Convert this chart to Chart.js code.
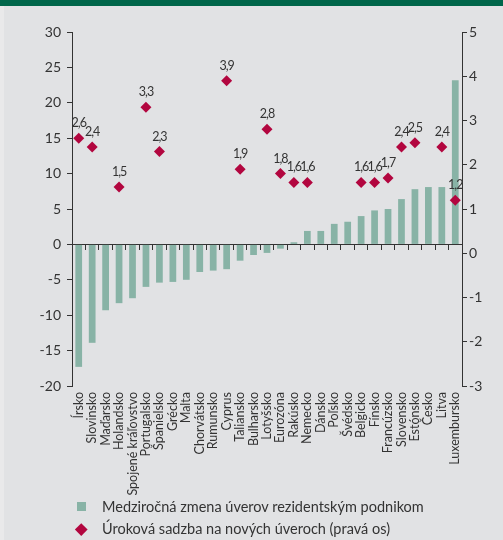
<!DOCTYPE html>
<html>
<head>
<meta charset="utf-8">
<script src="https://cdn.jsdelivr.net/npm/chart.js@4/dist/chart.umd.min.js"></script>
<style>
  html, body { margin: 0; padding: 0; background: #e1e2e4; }
  #wrap { position: relative; width: 503px; height: 540px; overflow: hidden; background: #e1e2e4;
          font-family: Lato, "Open Sans", sans-serif; }
  #band { position: absolute; left: 0; top: 0; width: 503px; height: 6px; background: #00664a; }
  #edge { position: absolute; left: 0; top: 6px; width: 4px; height: 534px; background: #e9e9ea; }
  #c { position: absolute; left: 0; top: 0; }
  #legend { position: absolute; left: 0; top: 496px; color: #333; font-size: 14.5px; }
  .row { position: relative; height: 22px; line-height: 22px; padding-left: 102px; white-space: nowrap; }
  .mk { position: absolute; }
</style>
</head>
<body>
<div id="wrap">
  <div id="band"></div>
  <div id="edge"></div>
  <canvas id="c" width="503" height="540"></canvas>
  <div id="legend"></div>
</div>
<script>
// Countries along the category axis
const categories = ['Írsko', 'Slovinsko', 'Maďarsko', 'Holandsko', 'Spojené kráľovstvo', 'Portugalsko',
  'Španielsko', 'Grécko', 'Malta', 'Chorvátsko', 'Rumunsko', 'Cyprus', 'Taliansko', 'Bulharsko',
  'Lotyšsko', 'Eurozóna', 'Rakúsko', 'Nemecko', 'Dánsko', 'Poľsko', 'Švédsko', 'Belgicko', 'Fínsko',
  'Francúzsko', 'Slovensko', 'Estónsko', 'Česko', 'Litva', 'Luxembursko'];

// Year-on-year change of loans to resident enterprises (%), left axis
const loanGrowth = [-17.3, -13.9, -9.3, -8.3, -7.6, -6.0, -5.4, -5.3, -5.0, -3.9, -3.7, -3.5, -2.3, -1.5,
  -1.2, -0.6, 0.3, 1.9, 1.9, 2.9, 3.2, 4.0, 4.8, 5.0, 6.4, 7.8, 8.1, 8.1, 23.2];

// Interest rate on new loans (%), right axis; null where not reported
const interestRate = [2.6, 2.4, null, 1.5, null, 3.3, 2.3, null, null, null, null, 3.9, 1.9, null,
  2.8, 1.8, 1.6, 1.6, null, null, null, 1.6, 1.6, 1.7, 2.4, 2.5, null, 2.4, 1.2];

// Axis ranges and tick steps
const leftAxis = { min: -20, max: 30, step: 5 };
const rightAxis = { min: -3, max: 5, step: 1 };

// Series names shown in the legend
const seriesNames = ['Medziročná zmena úverov rezidentským podnikom',
  'Úroková sadzba na nových úveroch (pravá os)'];

const INK = '#333333';
const FONT = 'Lato, "Open Sans", sans-serif';

const fmt = v => v.toFixed(1).replace('.', ',');

// Writes the rate value above each diamond
const valueLabels = {
  id: 'valueLabels',
  afterDatasetsDraw(chart) {
    const idx = chart.data.datasets.findIndex(d => d.type === 'line');
    const meta = chart.getDatasetMeta(idx);
    const data = chart.data.datasets[idx].data;
    const ctx = chart.ctx;
    ctx.save();
    ctx.font = '12.5px ' + FONT;
    if ('letterSpacing' in ctx) ctx.letterSpacing = '-1px';
    ctx.fillStyle = INK;
    ctx.textAlign = 'center';
    ctx.textBaseline = 'middle';
    meta.data.forEach((pt, i) => {
      const v = data[i];
      if (v === null || v === undefined) return;
      ctx.fillText(fmt(v), pt.x, pt.y - 15);
    });
    ctx.restore();
  }
};

const chart = new Chart(document.getElementById('c'), {
  type: 'bar',
  data: {
    labels: categories,
    datasets: [
      {
        type: 'line',
        label: seriesNames[1],
        data: interestRate,
        yAxisID: 'y1',
        showLine: false,
        pointStyle: 'rectRot',
        pointRadius: 5.5,
        pointHoverRadius: 5.5,
        backgroundColor: '#b2063f',
        borderColor: '#b2063f',
        borderWidth: 0,
        order: 0
      },
      {
        type: 'bar',
        label: seriesNames[0],
        data: loanGrowth,
        yAxisID: 'y',
        backgroundColor: '#88b3a6',
        borderWidth: 0,
        barPercentage: 0.5,
        categoryPercentage: 1.0,
        order: 1
      }
    ]
  },
  options: {
    responsive: false,
    animation: false,
    events: [],
    layout: { padding: { left: 0, right: 0, top: 32, bottom: 0 } },
    plugins: { legend: { display: false }, tooltip: { enabled: false }, title: { display: false } },
    scales: {
      x: {
        type: 'category',
        position: 'bottom',
        offset: true,
        grid: { display: false, drawTicks: false },
        border: { display: false },
        ticks: {
          autoSkip: false, minRotation: 90, maxRotation: 90, padding: 6,
          color: INK, font: { family: FONT, size: 12.5 }
        },
        afterFit(s) { s.height = 154; }
      },
      x2: {
        type: 'category',
        position: { y: 0 },
        offset: true,
        grid: { offset: true, drawOnChartArea: false, drawTicks: true, tickLength: 5, color: INK, lineWidth: 1 },
        border: { display: true, color: INK, width: 1 },
        ticks: { display: false }
      },
      y: {
        position: 'left',
        min: leftAxis.min, max: leftAxis.max,
        grid: { drawOnChartArea: false, drawTicks: true, tickLength: 5, color: INK, lineWidth: 1 },
        border: { display: true, color: INK, width: 1 },
        ticks: { stepSize: leftAxis.step, padding: 6, color: INK, font: { family: FONT, size: 14 },
                 callback: v => String(v) },
        afterFit(s) { s.width = 72; }
      },
      y1: {
        position: 'right',
        min: rightAxis.min, max: rightAxis.max,
        grid: { drawOnChartArea: false, drawTicks: true, tickLength: 5, color: INK, lineWidth: 1 },
        border: { display: true, color: INK, width: 1 },
        ticks: { stepSize: rightAxis.step, padding: 2, color: INK, font: { family: FONT, size: 14 },
                 callback: v => String(v) },
        afterFit(s) { s.width = 41; }
      }
    }
  },
  plugins: [valueLabels]
});

// Legend rows built from the chart's datasets (bars first, then diamonds)
const legend = document.getElementById('legend');
[1, 0].forEach(i => {
  const ds = chart.data.datasets[i];
  const row = document.createElement('div');
  row.className = 'row';
  const mk = document.createElement('div');
  mk.className = 'mk';
  if (ds.type === 'line') {
    mk.style.cssText = 'left:77px;top:7px;width:8.5px;height:8.5px;transform:rotate(45deg);background:' + ds.backgroundColor;
  } else {
    mk.style.cssText = 'left:77px;top:6px;width:9px;height:9px;background:' + ds.backgroundColor;
  }
  row.appendChild(mk);
  row.appendChild(document.createTextNode(ds.label));
  legend.appendChild(row);
});
</script>
</body>
</html>
